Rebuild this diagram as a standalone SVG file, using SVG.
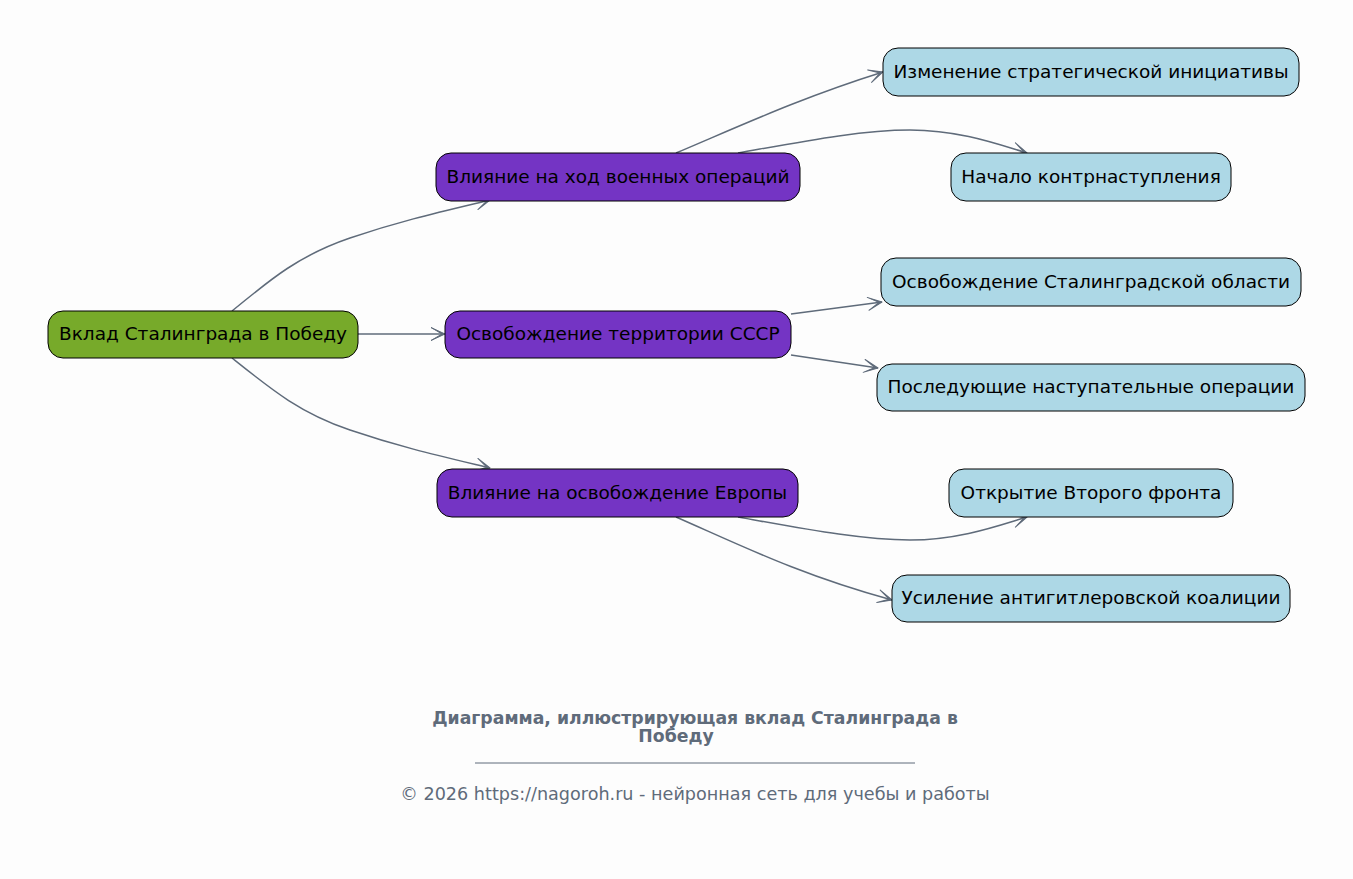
<svg xmlns="http://www.w3.org/2000/svg" width="1353" height="879" viewBox="0 0 1353 879">
<defs>
<marker id="arr" viewBox="0 0 16 16" refX="15" refY="8" markerWidth="16" markerHeight="16" markerUnits="userSpaceOnUse" orient="auto">
<path d="M1,1.5 L15,8 L1,14.5 L12,8 Z" fill="#5f6b7a" stroke="#5f6b7a" stroke-width="1" stroke-linejoin="round"/>
</marker>
<style>
.n rect{stroke:#000;stroke-width:1}
.root rect{fill:#77aa2a}
.mid rect{fill:#7434c4}
.leaf rect{fill:#add8e6}
.n text{font-family:"DejaVu Sans",sans-serif;font-size:18.5px;fill:#000;text-anchor:middle;dominant-baseline:central}
#edges path{fill:none;stroke:#5f6b7a;stroke-width:1.5;marker-end:url(#arr)}
.title{font-family:"DejaVu Sans",sans-serif;font-size:17.3px;font-weight:bold;fill:#5f6b7a;text-anchor:middle}
.foot{font-family:"DejaVu Sans",sans-serif;font-size:17.6px;fill:#5f6b7a;text-anchor:middle}
</style>
</defs>
<rect width="1353" height="879" fill="#fdfdfd"/>
<g id="edges">
<path d="M232,311 C272,278 300,255 350,238 S440,212 490,200"/>
<path d="M358,334 L445,334"/>
<path d="M232,358 C272,390 300,413 350,430 S440,456 490,468"/>
<path d="M676,153 C740,126 800,98 883,72"/>
<path d="M738,153 C800,142 860,130 910,130 C960,130 1000,145 1027,153"/>
<path d="M791,314 L882,302"/>
<path d="M791,355 L878,368"/>
<path d="M738,517 C800,528 860,540 910,540 C960,540 1000,525 1027,517"/>
<path d="M676,517 C740,545 800,575 892,600"/>
</g>
<g id="root" class="n root"><rect x="48" y="311" width="310" height="47" rx="15"/><text x="203" y="333.5">Вклад Сталинграда в Победу</text></g>
<g id="mid1" class="n mid"><rect x="436" y="153" width="364" height="48" rx="15"/><text x="618" y="176">Влияние на ход военных операций</text></g>
<g id="mid2" class="n mid"><rect x="445" y="311" width="346" height="47" rx="15"/><text x="618" y="333.5">Освобождение территории СССР</text></g>
<g id="mid3" class="n mid"><rect x="437" y="469" width="361" height="48" rx="15"/><text x="617.5" y="492">Влияние на освобождение Европы</text></g>
<g id="leaf1" class="n leaf"><rect x="883" y="48" width="416" height="48" rx="15"/><text x="1091" y="71">Изменение стратегической инициативы</text></g>
<g id="leaf2" class="n leaf"><rect x="951" y="153" width="280" height="48" rx="15"/><text x="1091" y="176">Начало контрнаступления</text></g>
<g id="leaf3" class="n leaf"><rect x="881" y="258" width="420" height="48" rx="15"/><text x="1091" y="281">Освобождение Сталинградской области</text></g>
<g id="leaf4" class="n leaf"><rect x="877" y="364" width="428" height="47" rx="15"/><text x="1091" y="386.5">Последующие наступательные операции</text></g>
<g id="leaf5" class="n leaf"><rect x="949" y="469" width="284" height="48" rx="15"/><text x="1091" y="492">Открытие Второго фронта</text></g>
<g id="leaf6" class="n leaf"><rect x="892" y="575" width="398" height="47" rx="15"/><text x="1091" y="597.5">Усиление антигитлеровской коалиции</text></g>
<text class="title" x="695" y="724">Диаграмма, иллюстрирующая вклад Сталинграда в</text>
<text class="title" x="676" y="742">Победу</text>
<line x1="475" y1="763" x2="915" y2="763" stroke="#5f6b7a" stroke-width="1"/>
<text class="foot" x="695" y="800">© 2026 https://nagoroh.ru - нейронная сеть для учебы и работы</text>
</svg>
